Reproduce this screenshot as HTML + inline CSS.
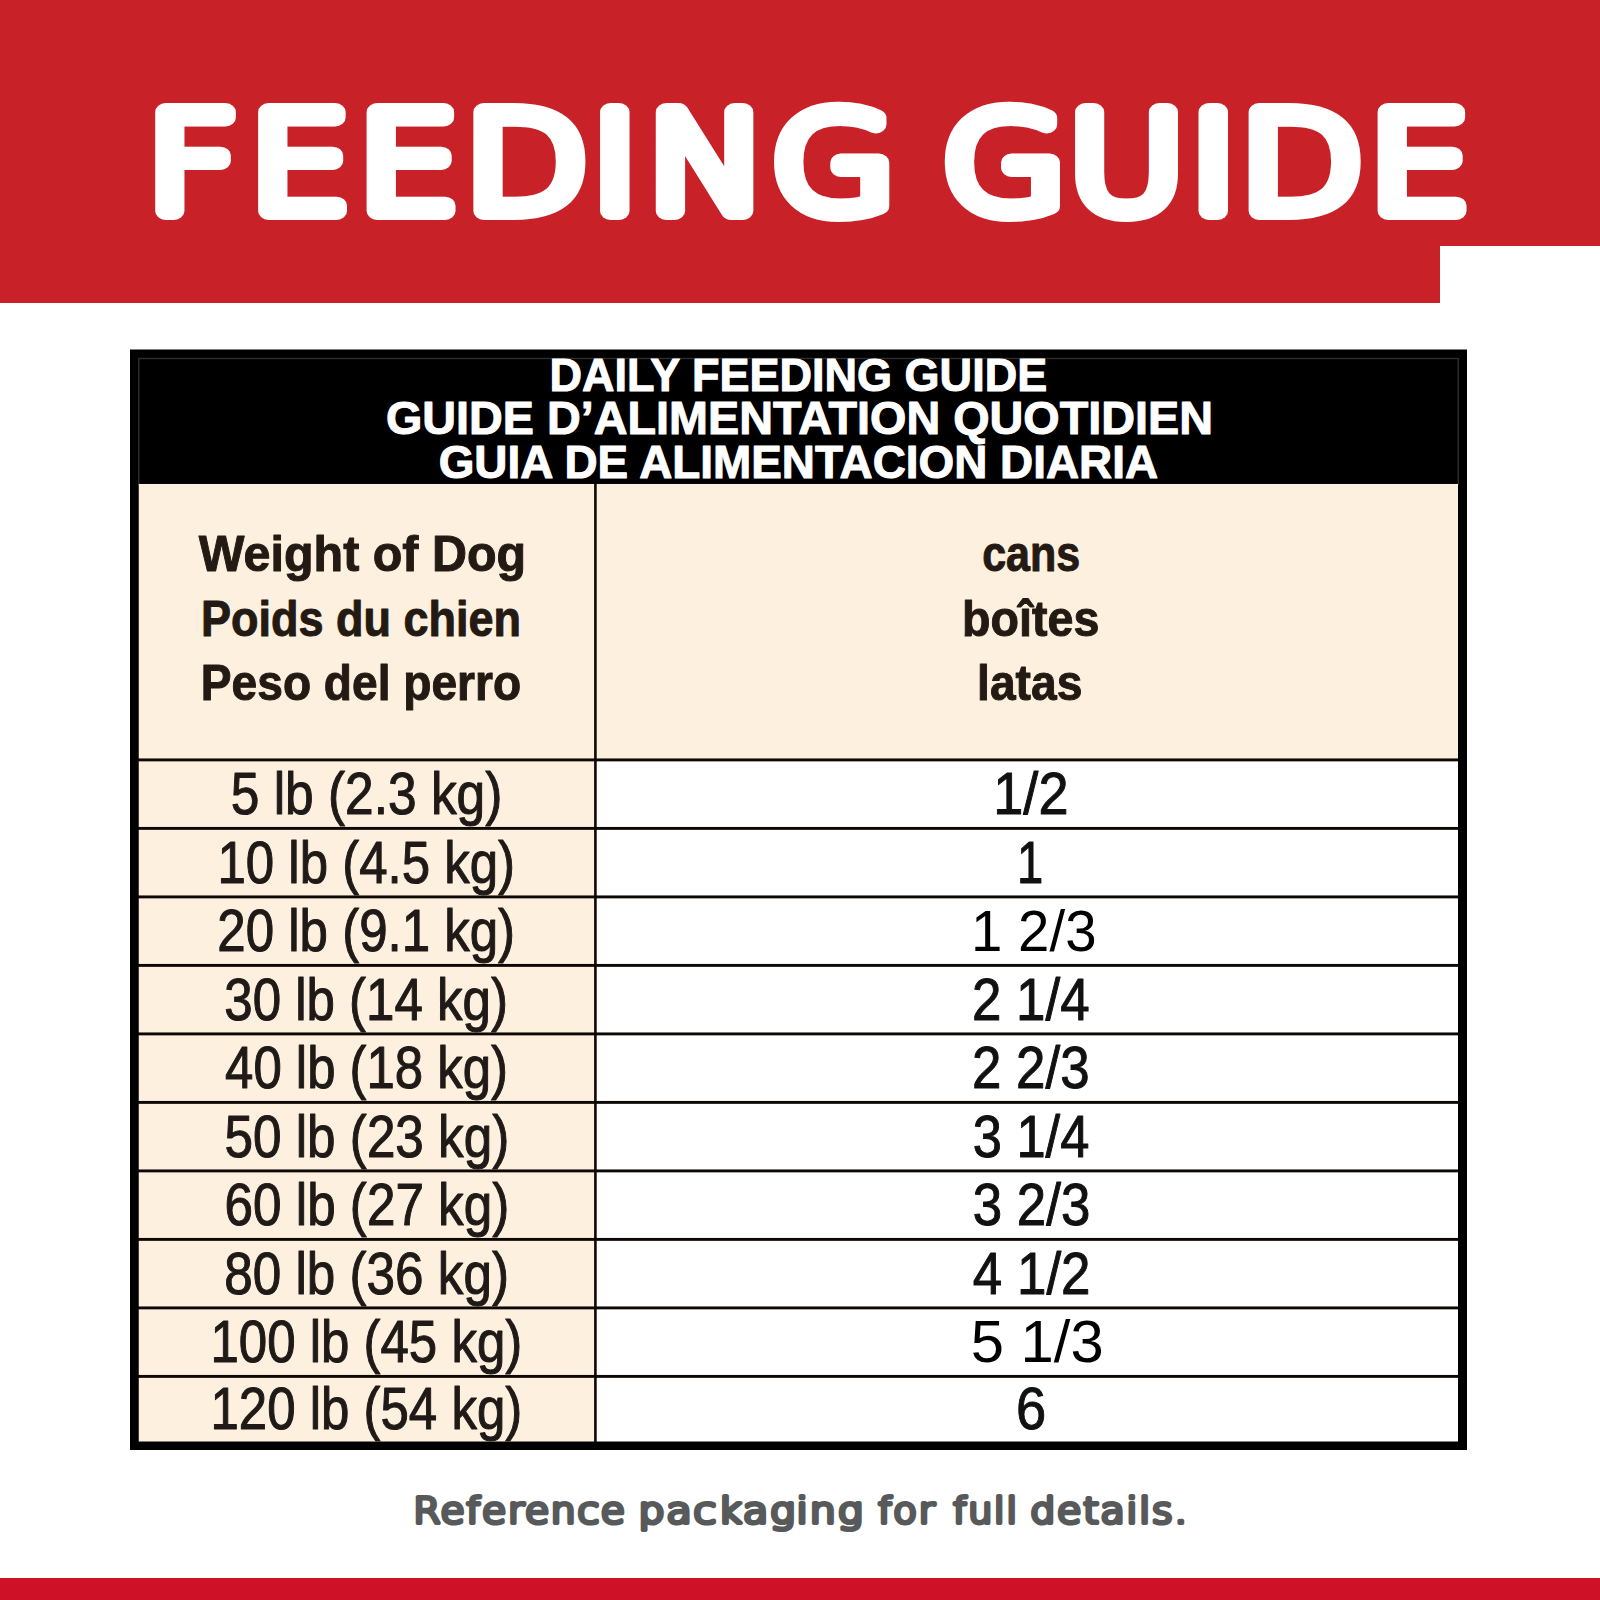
<!DOCTYPE html>
<html lang="en">
<head>
<meta charset="utf-8">
<title>Feeding Guide</title>
<style>
html,body{margin:0;padding:0;background:#fff;}
body{width:1600px;height:1600px;overflow:hidden;position:relative;font-family:"Liberation Sans",sans-serif;}
svg{position:absolute;left:0;top:0;display:block;}
text{font-family:"Liberation Sans",sans-serif;}
.hd{font-weight:bold;font-size:45.6px;fill:#fff;stroke:#fff;stroke-width:1px;stroke-linejoin:round;}
.col{font-weight:bold;font-size:50px;fill:#231a14;stroke:#231a14;stroke-width:1px;stroke-linejoin:round;}
.lw{font-size:60px;fill:#1f1a17;stroke:#1f1a17;stroke-width:1.1px;stroke-linejoin:round;}
.rw{font-size:60px;fill:#111;stroke:#111;stroke-width:1px;stroke-linejoin:round;}
.ra{font-size:57.8px;fill:#000;}
.rb{font-size:59.3px;fill:#000;}
.ft{font-family:'DejaVu Sans','Liberation Sans',sans-serif;font-weight:200;font-size:34.8px;fill:#58595b;stroke:#58595b;stroke-width:4.2px;stroke-linejoin:round;stroke-linecap:round;letter-spacing:1.6px;}
</style>
</head>
<body>
<svg width="1600" height="1600" viewBox="0 0 1600 1600">
<!-- banner -->
<rect x="0" y="0" width="1600" height="246" fill="#c82128"/>
<rect x="0" y="0" width="1440" height="303" fill="#c82128"/>
<g id="title" transform="scale(1.18,1)" fill="#fff" stroke="#fff" stroke-width="18" stroke-linejoin="round" stroke-linecap="round" font-size="136.1" font-weight="200" style="font-family:'DejaVu Sans','Liberation Sans',sans-serif">
<text id="ttl" style="font-family:inherit" y="211" x="123.9 211.2 303.1 393.6 501.1 548.3 653.7 726.0 798.4 904.9 1008.2 1050.7 1160.0">FEEDING GUIDE</text>
</g>
<!-- table frame -->
<rect x="130" y="349.5" width="1337" height="1100.5" fill="#000"/>
<rect x="138.75" y="358.5" width="1319.5" height="126" fill="none" stroke="#2e2e2e" stroke-width="1.4"/>
<!-- cells -->
<rect x="138.75" y="484" width="457" height="957.5" fill="#fef0de"/>
<rect x="595" y="484" width="863" height="276" fill="#fef0de"/>
<rect x="595" y="760" width="863" height="681.5" fill="#fff"/>
<g id="lines" fill="#0d0804">
<rect x="138" y="758.45" width="1320" height="2.9"/>
<rect x="138" y="826.95" width="1320" height="2.9"/>
<rect x="138" y="895.45" width="1320" height="2.9"/>
<rect x="138" y="963.95" width="1320" height="2.9"/>
<rect x="138" y="1032.45" width="1320" height="2.9"/>
<rect x="138" y="1100.95" width="1320" height="2.9"/>
<rect x="138" y="1169.45" width="1320" height="2.9"/>
<rect x="138" y="1237.95" width="1320" height="2.9"/>
<rect x="138" y="1306.45" width="1320" height="2.9"/>
<rect x="138" y="1374.95" width="1320" height="2.9"/>
<rect x="594.10" y="484" width="2.6" height="958"/>
</g>
<!-- TEXTS -->
<text id="h1" class="hd" x="549.48" y="390.50" textLength="497.70" lengthAdjust="spacingAndGlyphs">DAILY FEEDING GUIDE</text>
<text id="h2" class="hd" x="385.90" y="434.00" textLength="827.11" lengthAdjust="spacingAndGlyphs">GUIDE D’ALIMENTATION QUOTIDIEN</text>
<text id="h3" class="hd" x="438.70" y="477.60" textLength="719.36" lengthAdjust="spacingAndGlyphs">GUIA DE ALIMENTACION DIARIA</text>
<text id="c1" class="col" x="198.74" y="571.25" textLength="327.41" lengthAdjust="spacingAndGlyphs">Weight of Dog</text>
<text id="c2" class="col" x="200.95" y="635.60" textLength="319.99" lengthAdjust="spacingAndGlyphs">Poids du chien</text>
<text id="c3" class="col" x="200.87" y="700.00" textLength="320.25" lengthAdjust="spacingAndGlyphs">Peso del perro</text>
<text id="d1" class="col" x="982.20" y="571.25" textLength="98.08" lengthAdjust="spacingAndGlyphs">cans</text>
<text id="d2" class="col" x="962.09" y="635.90" textLength="137.25" lengthAdjust="spacingAndGlyphs">boîtes</text>
<text id="d3" class="col" x="977.11" y="700.25" textLength="105.25" lengthAdjust="spacingAndGlyphs">latas</text>
<text id="l0" class="lw" x="230.77" y="814.00" textLength="271.57" lengthAdjust="spacingAndGlyphs">5 lb (2.3 kg)</text>
<text id="l1" class="lw" x="217.48" y="882.50" textLength="297.62" lengthAdjust="spacingAndGlyphs">10 lb (4.5 kg)</text>
<text id="l2" class="lw" x="217.35" y="951.00" textLength="297.75" lengthAdjust="spacingAndGlyphs">20 lb (9.1 kg)</text>
<text id="l3" class="lw" x="224.24" y="1019.50" textLength="283.77" lengthAdjust="spacingAndGlyphs">30 lb (14 kg)</text>
<text id="l4" class="lw" x="225.12" y="1088.00" textLength="282.87" lengthAdjust="spacingAndGlyphs">40 lb (18 kg)</text>
<text id="l5" class="lw" x="224.56" y="1156.50" textLength="284.67" lengthAdjust="spacingAndGlyphs">50 lb (23 kg)</text>
<text id="l6" class="lw" x="224.57" y="1225.00" textLength="284.67" lengthAdjust="spacingAndGlyphs">60 lb (27 kg)</text>
<text id="l7" class="lw" x="224.23" y="1293.50" textLength="284.78" lengthAdjust="spacingAndGlyphs">80 lb (36 kg)</text>
<text id="l8" class="lw" x="210.48" y="1362.00" textLength="311.75" lengthAdjust="spacingAndGlyphs">100 lb (45 kg)</text>
<text id="l9" class="lw" x="210.48" y="1429.30" textLength="311.75" lengthAdjust="spacingAndGlyphs">120 lb (54 kg)</text>
<text id="r0" class="rw" x="993.27" y="814.00" textLength="75.22" lengthAdjust="spacingAndGlyphs">1/2</text>
<text id="r1" class="rw" x="1016.88" y="882.50" textLength="26.29" lengthAdjust="spacingAndGlyphs">1</text>
<text id="r2" class="ra" x="971.10" y="951.00" textLength="125.41" lengthAdjust="spacingAndGlyphs">1 2/3</text>
<text id="r3" class="rw" x="972.00" y="1019.50" textLength="117.64" lengthAdjust="spacingAndGlyphs">2 1/4</text>
<text id="r4" class="rw" x="972.01" y="1088.00" textLength="117.53" lengthAdjust="spacingAndGlyphs">2 2/3</text>
<text id="r5" class="rw" x="972.71" y="1156.50" textLength="116.67" lengthAdjust="spacingAndGlyphs">3 1/4</text>
<text id="r6" class="rw" x="972.69" y="1225.00" textLength="117.61" lengthAdjust="spacingAndGlyphs">3 2/3</text>
<text id="r7" class="rw" x="972.83" y="1293.50" textLength="117.69" lengthAdjust="spacingAndGlyphs">4 1/2</text>
<text id="r8" class="rb" x="970.73" y="1362.00" textLength="132.94" lengthAdjust="spacingAndGlyphs">5 1/3</text>
<text id="r9" class="rw" x="1016.09" y="1429.00" textLength="30.18" lengthAdjust="spacingAndGlyphs">6</text>
<text id="ft" class="ft" y="1522.60"><tspan id="ft0" x="413.17" textLength="213.63" lengthAdjust="spacingAndGlyphs">Reference</tspan> <tspan id="ft1" x="638.44" textLength="225.85" lengthAdjust="spacingAndGlyphs">packaging</tspan> <tspan id="ft2" x="877.94" textLength="58.40" lengthAdjust="spacingAndGlyphs">for</tspan> <tspan id="ft3" x="952.98" textLength="65.76" lengthAdjust="spacingAndGlyphs">full</tspan> <tspan id="ft4" x="1030.21" textLength="158.68" lengthAdjust="spacingAndGlyphs">details.</tspan></text>
<!-- /TEXTS -->
<rect x="0" y="1578" width="1600" height="22" fill="#ce1126"/>
</svg>
</body>
</html>
